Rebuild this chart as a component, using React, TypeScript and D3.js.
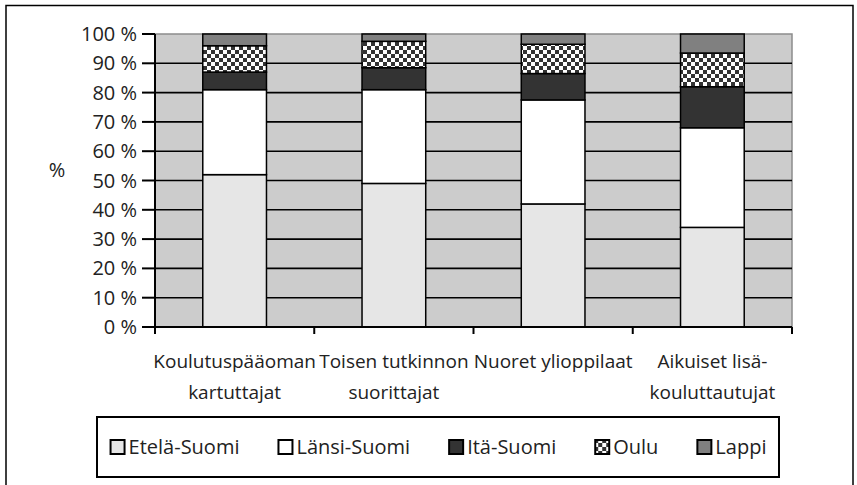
import React, { useEffect, useRef } from "react";
import * as d3 from "d3";

// categories (label lines) and the regional shares, percent
const categories = ["Koulutuspääoman kartuttajat", "Toisen tutkinnon suorittajat", "Nuoret ylioppilaat", "Aikuiset lisäkouluttautujat"];
const categoryLines = [
  ["Koulutuspääoman", "kartuttajat"],
  ["Toisen tutkinnon", "suorittajat"],
  ["Nuoret ylioppilaat"],
  ["Aikuiset lisä-", "kouluttautujat"],
];
const regions = ["Etelä-Suomi", "Länsi-Suomi", "Itä-Suomi", "Oulu", "Lappi"];
const etela = [52, 49, 42, 34];
const lansi = [29, 32, 35.5, 34];
const ita = [6, 7.5, 9, 14];
const oulu = [9, 9, 10, 11.5];
const lappi = [4, 2.5, 3.5, 6.5];
const yTicks = [0, 10, 20, 30, 40, 50, 60, 70, 80, 90, 100];

const fills = ["#e6e6e6", "#ffffff", "#333333", "url(#checker)", "#808080"];
const FONT = "'Open Sans', 'Noto Sans', sans-serif";

const App = () => {
  const svgRef = useRef<SVGSVGElement>(null);

  useEffect(() => {
    const width = 857, height = 485;
    const margin = { top: 34, right: 65, bottom: 158, left: 155 };
    const innerW = width - margin.left - margin.right;
    const innerH = height - margin.top - margin.bottom;

    const svg = d3.select(svgRef.current);
    svg.selectAll("*").remove();

    // checker pattern for Oulu
    const defs = svg.append("defs");
    const pat = defs.append("pattern")
      .attr("id", "checker")
      .attr("width", 8).attr("height", 8)
      .attr("patternUnits", "userSpaceOnUse");
    pat.append("rect").attr("width", 8).attr("height", 8).attr("fill", "#ffffff");
    pat.append("rect").attr("width", 4).attr("height", 4).attr("fill", "#333333");
    pat.append("rect").attr("x", 4).attr("y", 4).attr("width", 4).attr("height", 4).attr("fill", "#333333");

    // outer frame
    svg.append("rect")
      .attr("x", 6).attr("y", 5.5)
      .attr("width", 847).attr("height", 500)
      .attr("fill", "#fff").attr("stroke", "#000").attr("stroke-width", 1.5);

    const g = svg.append("g").attr("transform", `translate(${margin.left},${margin.top})`);

    const x = d3.scaleBand<string>()
      .domain(categories)
      .range([0, innerW])
      .paddingInner(0.6)
      .paddingOuter(0.3);
    const step = innerW / categories.length;

    const y = d3.scaleLinear().domain([0, 100]).range([innerH, 0]);

    // plot background
    g.append("rect")
      .attr("width", innerW).attr("height", innerH)
      .attr("fill", "#cccccc")
      .attr("stroke", "#8c8c8c").attr("stroke-width", 1.5);

    // gridlines
    g.selectAll(".grid")
      .data(yTicks.slice(1, -1))
      .join("line")
      .attr("x1", 0).attr("x2", innerW)
      .attr("y1", (d) => y(d)).attr("y2", (d) => y(d))
      .attr("stroke", "#000").attr("stroke-width", 1.6);

    // stacked bars
    const table = categories.map((c, i) => ({
      cat: c,
      "Etelä-Suomi": etela[i],
      "Länsi-Suomi": lansi[i],
      "Itä-Suomi": ita[i],
      Oulu: oulu[i],
      Lappi: lappi[i],
    }));
    const stacked = d3.stack<any>().keys(regions)(table);

    stacked.forEach((layer, li) => {
      g.append("g")
        .selectAll("rect")
        .data(layer)
        .join("rect")
        .attr("x", (d) => x(d.data.cat)!)
        .attr("width", x.bandwidth())
        .attr("y", (d) => y(d[1]))
        .attr("height", (d) => y(d[0]) - y(d[1]))
        .attr("fill", fills[li])
        .attr("stroke", "#000")
        .attr("stroke-width", 1.5);
    });

    // y axis
    g.append("line")
      .attr("x1", 0).attr("x2", 0).attr("y1", 0).attr("y2", innerH)
      .attr("stroke", "#000").attr("stroke-width", 2);
    g.selectAll(".ytick")
      .data(yTicks)
      .join("line")
      .attr("x1", -13).attr("x2", 0)
      .attr("y1", (d) => y(d)).attr("y2", (d) => y(d))
      .attr("stroke", "#000").attr("stroke-width", 2);
    g.selectAll(".ylabel")
      .data(yTicks)
      .join("text")
      .attr("x", -18)
      .attr("y", (d) => y(d))
      .attr("dy", "0.35em")
      .attr("text-anchor", "end")
      .attr("font-family", FONT).attr("font-size", 20).attr("fill", "#222")
      .text((d) => `${d} %`);

    // x axis
    g.append("line")
      .attr("x1", 0).attr("x2", innerW).attr("y1", innerH).attr("y2", innerH)
      .attr("stroke", "#000").attr("stroke-width", 2);
    g.selectAll(".xtick")
      .data(d3.range(categories.length + 1))
      .join("line")
      .attr("x1", (d) => d * step).attr("x2", (d) => d * step)
      .attr("y1", innerH).attr("y2", innerH + 7)
      .attr("stroke", "#000").attr("stroke-width", 2);

    categories.forEach((c, i) => {
      const t = g.append("text")
        .attr("text-anchor", "middle")
        .attr("font-family", FONT).attr("font-size", 19).attr("fill", "#222")
        .attr("transform", `translate(${x(c)! + x.bandwidth() / 2},${innerH + 41})`);
      categoryLines[i].forEach((line, j) => {
        t.append("tspan").attr("x", 0).attr("y", j * 31).text(line);
      });
    });

    // y title
    svg.append("text")
      .attr("x", 57).attr("y", 170)
      .attr("dy", "0.35em")
      .attr("text-anchor", "middle")
      .attr("font-family", FONT).attr("font-size", 20).attr("fill", "#222")
      .text("%");

    // legend
    const lg = svg.append("g");
    lg.append("rect")
      .attr("x", 97).attr("y", 417)
      .attr("width", 682).attr("height", 60)
      .attr("fill", "#fff").attr("stroke", "#000").attr("stroke-width", 2);
    const items = lg.append("g");
    let cx = 0;
    regions.forEach((r, i) => {
      const it = items.append("g").attr("transform", `translate(${cx},0)`);
      it.append("rect")
        .attr("x", 1).attr("y", -7)
        .attr("width", 14).attr("height", 14)
        .attr("fill", fills[i]).attr("stroke", "#000").attr("stroke-width", 2);
      const tx = it.append("text")
        .attr("x", 19).attr("dy", "0.35em")
        .attr("font-family", FONT).attr("font-size", 20).attr("fill", "#222")
        .text(r);
      const len = (tx.node() as SVGTextElement).getComputedTextLength();
      cx += 19 + len + (i < regions.length - 1 ? 38 : 0);
    });
    items.attr("transform", `translate(${438 - cx / 2},447)`);
  }, []);

  return (
    <svg
      ref={svgRef}
      width={857}
      height={485}
      style={{ position: "absolute", left: 0, top: 0, display: "block" }}
    />
  );
};

export default App;
